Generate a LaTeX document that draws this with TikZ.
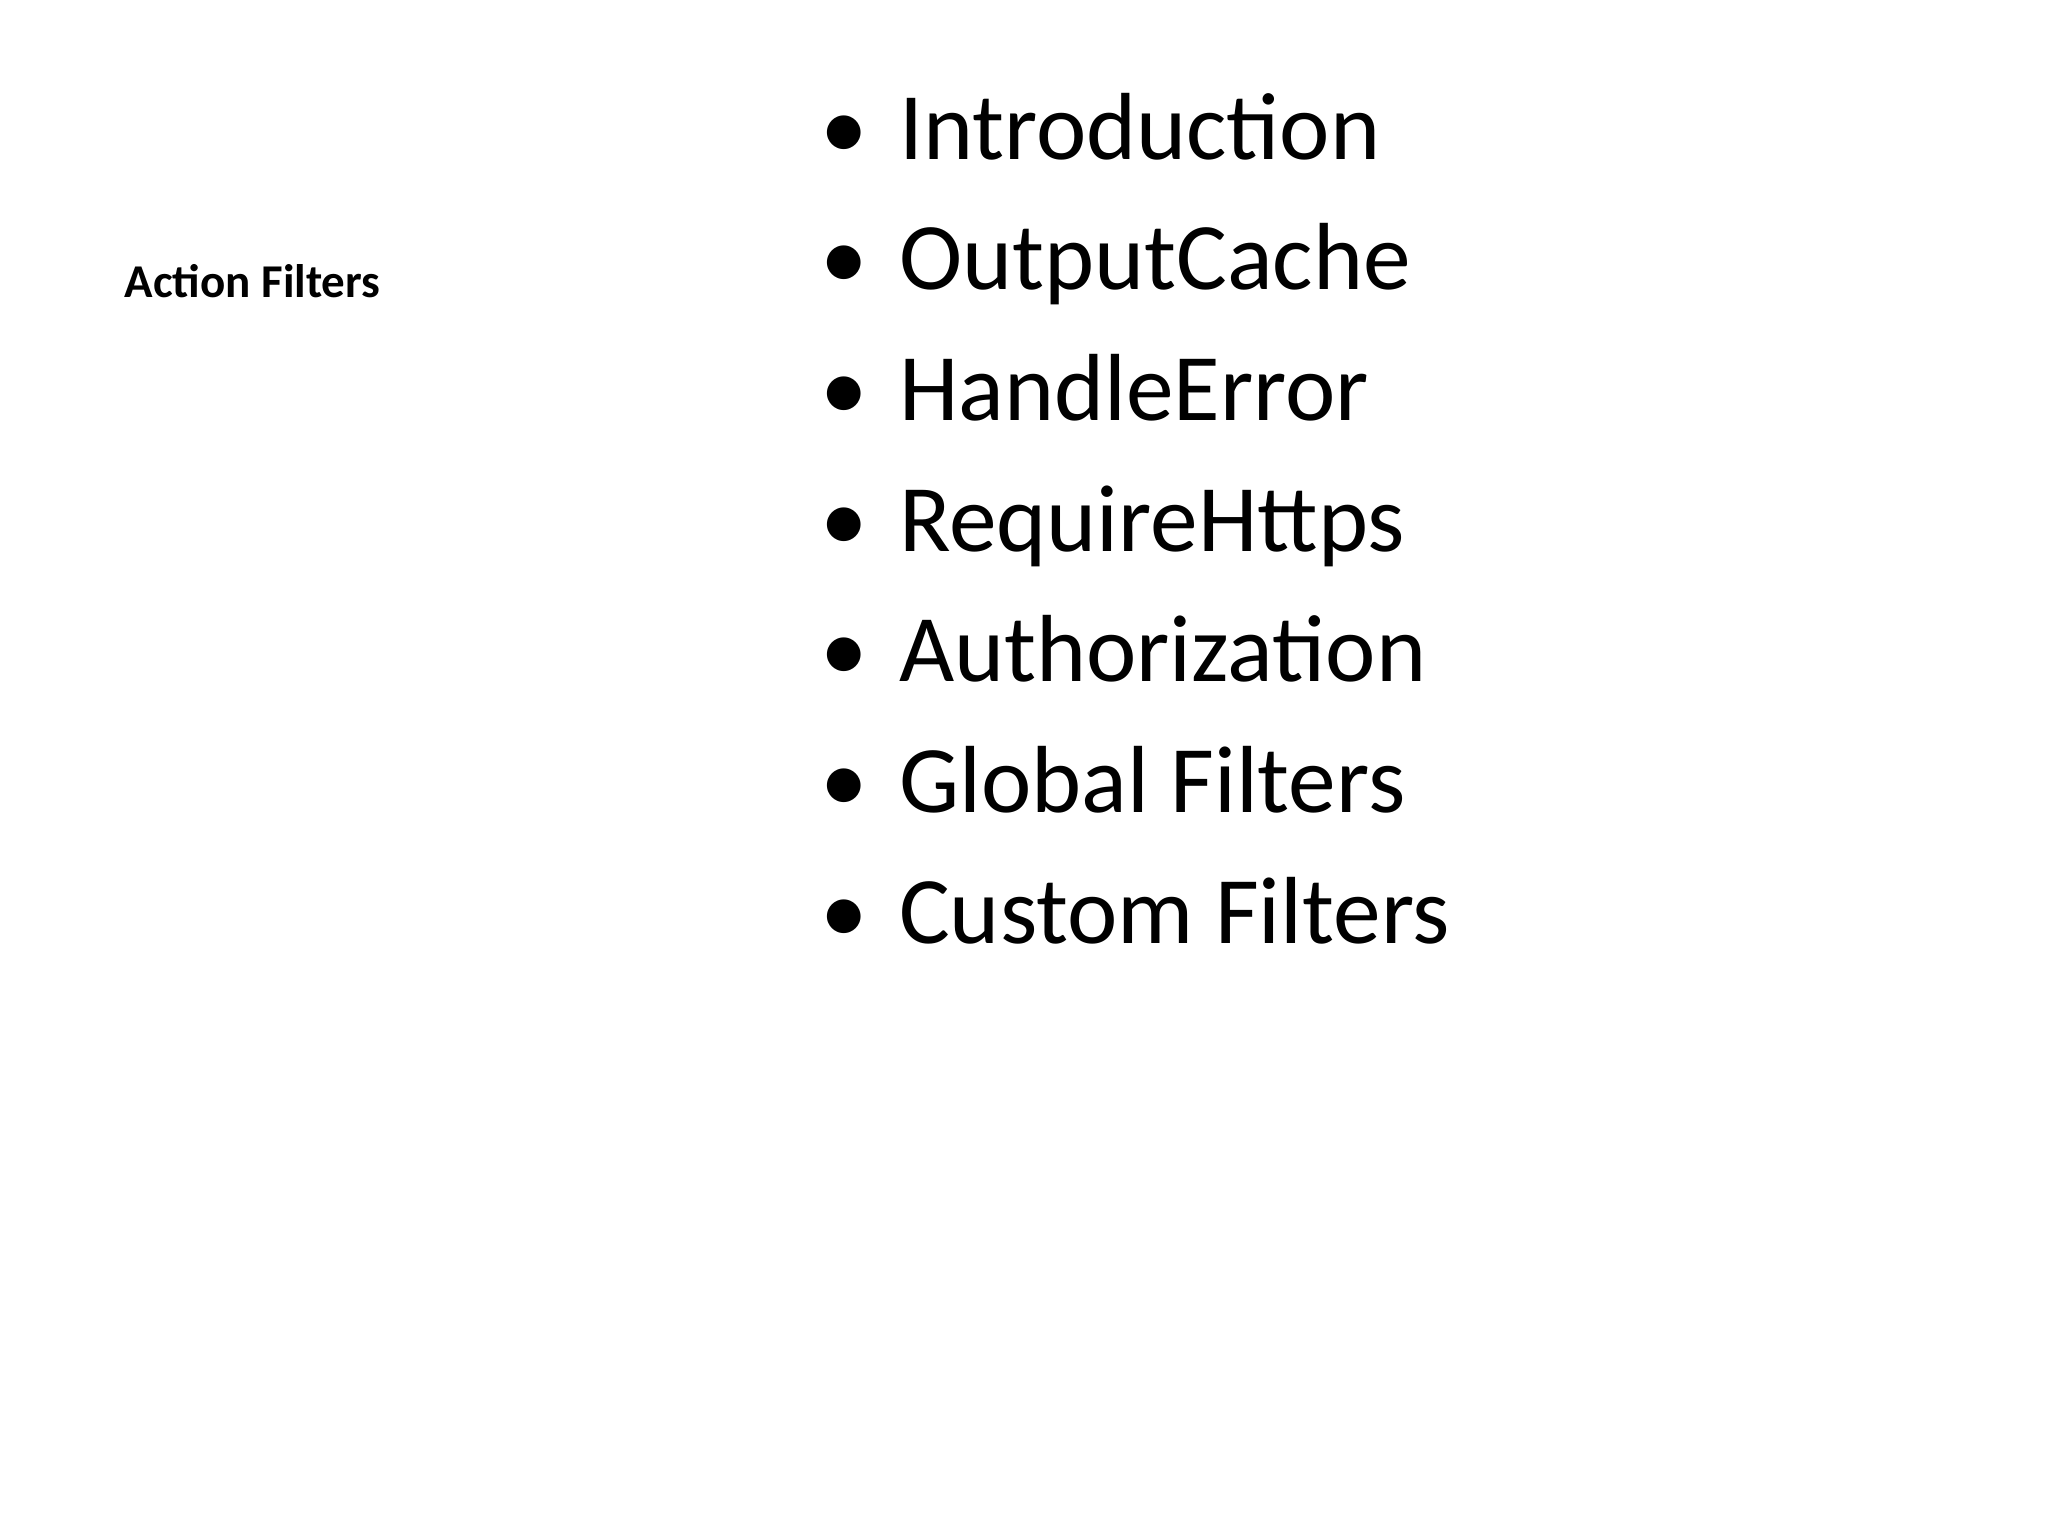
\documentclass[tikz,border=0pt]{standalone}
\usepackage{fontspec}
\setmainfont{Carlito}
\begin{document}
\begin{tikzpicture}[x=0.5pt,y=-0.5pt,
  item/.style={anchor=base west,inner sep=0pt,font=\fontsize{36.5}{40}\selectfont},
  bul/.style={anchor=base west,inner sep=0pt,font=\fontsize{36.5}{40}\selectfont}]
\useasboundingbox (0,0) rectangle (1568,1176);
\node[anchor=base west,inner sep=0pt,font=\fontsize{18}{22}\selectfont\bfseries] (title) at (95,228) {Action Filters};
\foreach \t [count=\i] in {Introduction,OutputCache,HandleError,RequireHttps,Authorization,Global Filters,Custom Filters}{
  \node[bul] (b\i) at (628,{22+100*\i}) {•};
  \node[item] (t\i) at (688,{22+100*\i}) {\t};
}
\end{tikzpicture}
\end{document}
